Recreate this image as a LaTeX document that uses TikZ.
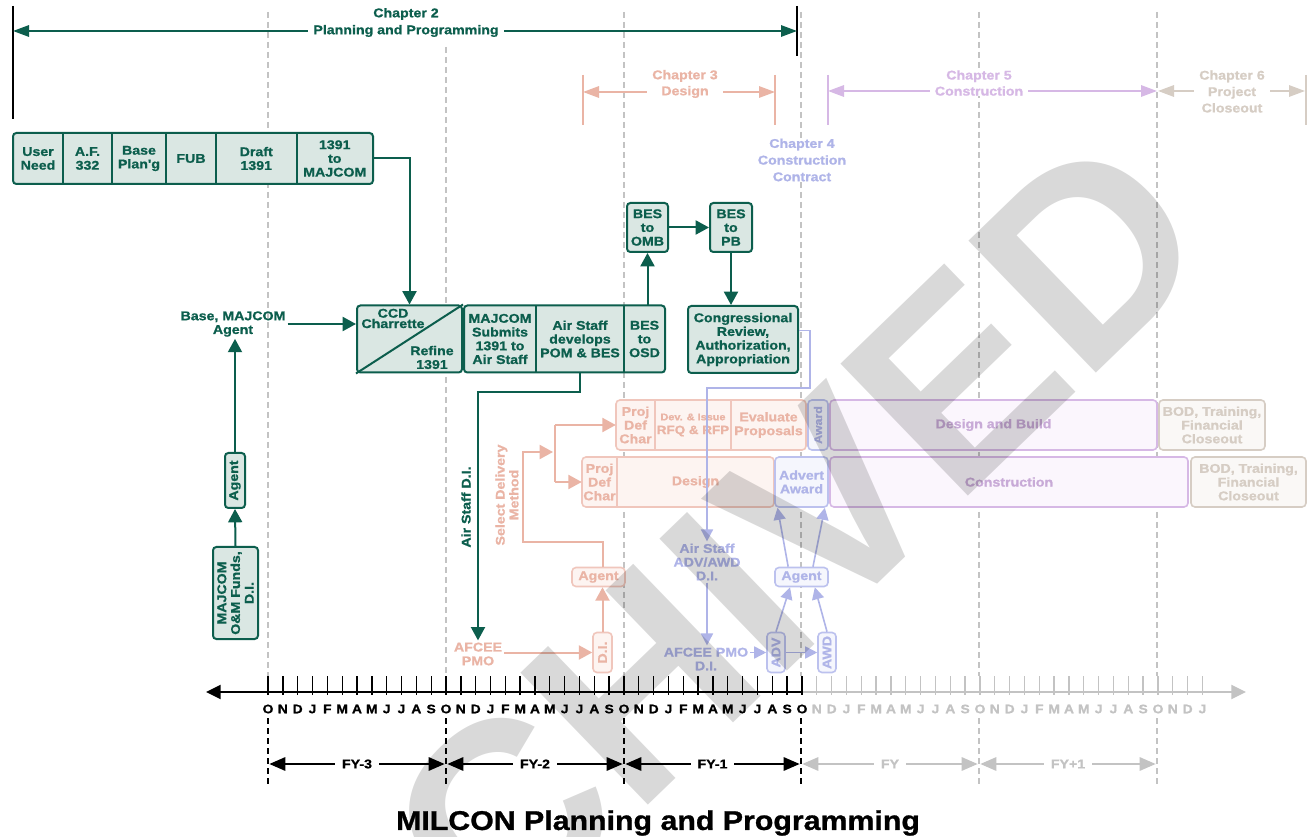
\documentclass[tikz,border=0pt]{standalone}
\usepackage{fontspec}
\setmainfont{Liberation Sans}
\newfontfamily\hb{Liberation Sans}[BoldFeatures={FakeStretch=1.12,FakeBold=1}]
\newfontfamily\wmf{Liberation Sans}
\usetikzlibrary{arrows.meta,calc}
\definecolor{cG}{RGB}{12,94,77}
\definecolor{cGF}{RGB}{218,231,227}
\definecolor{cPK}{RGB}{234,180,165}
\definecolor{cPKB}{RGB}{240,198,188}
\definecolor{cPKF}{RGB}{253,244,241}
\definecolor{cBL}{RGB}{175,180,232}
\definecolor{cBLB}{RGB}{188,193,238}
\definecolor{cBLF}{RGB}{245,246,253}
\definecolor{cLV}{RGB}{214,184,229}
\definecolor{cLVT}{RGB}{200,170,215}
\definecolor{cLVF}{RGB}{251,246,253}
\definecolor{cBG}{RGB}{214,205,196}
\definecolor{cBGF}{RGB}{250,248,246}
\definecolor{cGR}{RGB}{195,195,195}
\newcommand\bx{\hb\bfseries\fontsize{9.5}{10.3}\selectfont}
\newcommand\bxs{\hb\bfseries\fontsize{8.3}{9.5}\selectfont}
\newcommand\tl{\hb\bfseries\fontsize{9.3}{10}\selectfont}
\tikzset{
  sz/.style 2 args={minimum width=#1*0.75pt, minimum height=#2*0.75pt},
  gbox/.style={draw=cG, fill=cGF, line width=1.5pt, rounded corners=2.5pt, inner sep=0pt, align=center, font=\bx, text=cG},
  cell/.style={inner sep=0pt, align=center, font=\bx},
  gtext/.style={inner sep=1.5pt, align=center, font=\bx, text=cG},
  gline/.style={draw=cG, line width=1.5pt},
  tip/.style={-{Triangle[length=10pt,width=10.5pt]}},
  garr/.style={draw=cG, line width=1.5pt, tip},
  pbox/.style={draw=cPKB, fill=cPKF, line width=1.2pt, rounded corners=3pt, inner sep=0pt, align=center, font=\bx, text=cPK},
  pline/.style={draw=cPK, line width=1.5pt},
  parr/.style={draw=cPK, line width=1.5pt, tip},
  ptext/.style={inner sep=1.5pt, align=center, font=\bx, text=cPK},
  bbox/.style={draw=cBLB, fill=cBLF, line width=1.2pt, rounded corners=3pt, inner sep=0pt, align=center, font=\bx, text=cBL},
  barr/.style={draw=cBL, line width=1.2pt, -{Triangle[length=9pt,width=9pt]}},
  btext/.style={inner sep=1.5pt, align=center, font=\bx, text=cBL},
  lbox/.style={draw=cLV, fill=cLVF, line width=1.2pt, rounded corners=3pt, inner sep=0pt, align=center, font=\bx, text=cLVT},
  ybox/.style={draw=cBG, fill=cBGF, line width=1.2pt, rounded corners=3pt, inner sep=0pt, align=center, font=\bx, text=cBG},
  ctext/.style={font=\bx, fill=white, align=center, inner xsep=4pt, inner ysep=0.5pt},
  chtip/.style={{Triangle[length=12pt,width=8.5pt]}-{Triangle[length=12pt,width=8.5pt]}},
  guide/.style={draw=cGR, line width=1pt, dash pattern=on 4.5pt off 3pt},
  bguide/.style={draw=black, line width=1pt, dash pattern=on 4.5pt off 3pt},
  wm/.style={text=black, text opacity=0.15, inner sep=0pt, font=\wmf\bfseries\fontsize{200}{200}\selectfont}
}
\begin{document}
\begin{tikzpicture}[x=0.75pt,y=-0.75pt]
\useasboundingbox (0,0) rectangle (1307,837);
\fill[white] (0,0) rectangle (1307,837);

% guide lines
\foreach \gx/\gy in {268/12,446/47,624/12,801/12,979/12,1157/12}
  \draw[guide] (\gx,\gy) -- (\gx,676);
\foreach \gx in {268,446,624,801} \draw[bguide] (\gx,718) -- (\gx,786);
\foreach \gx in {979,1157} \draw[guide] (\gx,718) -- (\gx,786);

% Chapter 2
\draw[line width=1.1pt] (13,6) -- (13,119);
\draw[line width=1.1pt] (797,6) -- (797,56);
\coordinate (c2l) at (13,31); \coordinate (c2r) at (797,31);
\draw[cG, line width=1.5pt, chtip] (c2l) -- (c2r);
\node[ctext, text=cG] (c2) at (406,22.5) {Chapter 2\\[2.4pt]Planning and Programming};

% Chapter 3
\draw[cPK, line width=1.1pt] (583,75) -- (583,125);
\draw[cPK, line width=1.1pt] (775,75) -- (775,125);
\coordinate (c3l) at (583,92); \coordinate (c3r) at (775,92);
\draw[cPK, line width=1.5pt, chtip] (c3l) -- (c3r);
\node[ctext, text=cPK] (c3) at (685,84) {Chapter 3\\[1.7pt]Design};

% Chapter 5
\draw[cLV, line width=1.1pt] (828,75) -- (828,125);
\coordinate (c5l) at (828,91); \coordinate (c5r) at (1157,91);
\draw[cLV, line width=1.5pt, chtip] (c5l) -- (c5r);
\node[ctext, text=cLV] (c5) at (979,83) {Chapter 5\\[1.7pt]Construction};

% Chapter 6
\draw[cBG, line width=1.1pt] (1306,75) -- (1306,125);
\coordinate (c6l) at (1158,91); \coordinate (c6r) at (1305,91);
\draw[cBG, line width=1.5pt, chtip] (c6l) -- (c6r);
\node[ctext, text=cBG] (c6) at (1232,91.5) {Chapter 6\\[2pt]Project\\[2pt]Closeout};

% Chapter 4
\node[ctext, text=cBL] (c4) at (802,160) {Chapter 4\\[2.2pt]Construction\\[2.2pt]Contract};

% top row
\node[gbox, sz={360}{51}] (row1) at (193,158.5) {};
\node[cell, text=cG, sz={50}{51}] (un) at (38,158.5) {User\\Need};
\node[cell, text=cG, sz={49}{51}] (af) at (87.5,158.5) {A.F.\\332};
\node[cell, text=cG, sz={54}{51}] (bp) at (139,158.5) {Base\\Plan'g};
\node[cell, text=cG, sz={50}{51}] (fub) at (191,158.5) {FUB};
\node[cell, text=cG, sz={80.5}{51}] (dr) at (256.25,158.5) {Draft\\1391};
\node[cell, text=cG, sz={76.5}{51}] (tm) at (334.75,158.5) {1391\\to\\MAJCOM};
\foreach \c in {un,af,bp,fub,dr} \draw[gline] (\c.north east) -- (\c.south east);

% CCD
\node[gbox, sz={105}{67}] (ccd) at (409.5,339) {};
\draw[gline] (ccd.south west) -- (ccd.north east);
\node[cell, text=cG] (ccdt) at (393,318.5) {CCD\\[-2.5pt]Charrette};
\node[cell, text=cG] (ccdr) at (432,357.5) {Refine\\1391};

% group 2
\node[gbox, sz={201}{67}] (g2) at (564.5,339) {};
\node[cell, text=cG, sz={71.7}{67}] (ms) at (500,339) {MAJCOM\\Submits\\1391 to\\Air Staff};
\node[cell, text=cG, sz={88.3}{67}] (as) at (580,339) {Air Staff\\develops\\POM \& BES};
\node[cell, text=cG, sz={41}{67}] (bo) at (644.5,339) {BES\\to\\OSD};
\draw[gline] (ms.north east) -- (ms.south east);
\draw[gline] (as.north east) -- (as.south east);

\node[gbox, sz={41}{49}] (omb) at (647.5,227.5) {BES\\to\\OMB};
\node[gbox, sz={42}{49}] (pb) at (731,227.5) {BES\\to\\PB};
\node[gbox, sz={110}{67}] (cr) at (743,339.5) {Congressional\\Review,\\Authorization,\\Appropriation};

\node[gtext] (bmag) at (233,324) {Base, MAJCOM\\Agent};
\node[gbox, rotate=90, sz={55}{20}] (ag) at (235,480.5) {Agent};
\node[gbox, rotate=90, sz={92}{45}] (mom) at (235.5,593) {MAJCOM\\O\&M Funds,\\D.I.};
\node[gtext, rotate=90] (asdi) at (466,507) {Air Staff D.I.};

% green connectors
\draw[garr] (tm.east) -| (ccd.north);
\draw[garr] (bmag.east) -- (bmag.east -| ccd.west);
\draw[garr] (mom.east) -- (ag.west);
\draw[garr] (ag.east) -- (ag.east |- bmag.south);
\draw[garr] (omb.south |- bo.north) -- (omb.south);
\draw[garr] (omb.east) -- (pb.west);
\draw[garr] (pb.south) -- (pb.south |- cr.north);

% pink
\node[ptext] (pafp) at (478,654) {AFCEE\\PMO};
\node[pbox, rotate=90, sz={40}{19}] (pdi) at (602.5,652.5) {D.I.};
\node[pbox, sz={53}{19}] (pag) at (598.5,577) {Agent};
\node[ptext, rotate=90] (sdm) at (507,495) {Select Delivery\\Method};
\node[pbox, sz={190}{50}] (pr1) at (711,425) {};
\node[cell, text=cPK, sz={39}{50}] (pdc1) at (635.5,425) {Proj\\Def\\Char};
\node[cell, text=cPK, sz={76}{50}] (dev) at (693,425) {{\fontsize{7.3}{8}\selectfont Dev. \& Issue}\\{\fontsize{9}{10.3}\selectfont RFQ \& RFP}};
\node[cell, text=cPK, sz={75}{50}] (ev) at (768.5,425) {Evaluate\\Proposals};
\draw[cPKB, line width=1.2pt] (pdc1.north east) -- (pdc1.south east);
\draw[cPKB, line width=1.2pt] (dev.north east) -- (dev.south east);
\node[pbox, sz={192}{50}] (pr2) at (678,482) {};
\node[cell, text=cPK, sz={35}{50}] (pdc2) at (599.5,482) {Proj\\Def\\Char};
\node[cell, text=cPK, sz={157}{50}] (des) at (695.5,482) {Design};
\draw[cPKB, line width=1.2pt] (pdc2.north east) -- (pdc2.south east);

\coordinate (sdk) at (553,452);
\coordinate (sdt) at (555,425);
\coordinate (sdb) at (555,482);
\draw[parr] (pdi.east |- pag.north) |- (523,542) |- (sdk);
\draw[pline] (sdt) -- (sdb);
\draw[parr] (sdt) -- (pdc1.west);
\draw[parr] (sdb) -- (pdc2.west);
\draw[parr] (pdi.north -| pafp.east) -- (pdi.north);
\draw[parr] (pdi.east) -- (pdi.east |- pag.south);

% blue / lavender / beige
\node[bbox, rotate=90, sz={50}{20}, font=\bxs] (aw) at (818,425) {Award};
\node[bbox, sz={53}{50}] (aa) at (801.5,482) {Advert\\Award};
\node[lbox, sz={327}{50}] (dab) at (993.5,425) {Design and Build};
\node[lbox, sz={358}{50}] (cons) at (1009,482) {Construction};
\node[ybox, sz={106}{50}] (bod1) at (1212,425) {BOD, Training,\\Financial\\Closeout};
\node[ybox, sz={115}{50}] (bod2) at (1248.5,482) {BOD, Training,\\Financial\\Closeout};

\node[btext] (asad) at (707,562) {Air Staff\\ADV/AWD\\D.I.};
\node[btext] (apd) at (706,659) {AFCEE PMO\\D.I.};
\node[bbox, rotate=90, sz={40}{18}] (adv) at (776,652.5) {ADV};
\node[bbox, rotate=90, sz={40}{18}] (awd) at (827,652.5) {AWD};
\node[bbox, sz={53}{19}] (bag) at (801.5,577) {Agent};

\draw[barr] ([yshift=6.75pt]cr.east) -| (810,388) -| (asad.north);
\draw[barr] (asad.south) -- (asad.south |- apd.north);
\draw[barr] (adv.north -| apd.east) -- (adv.north);
\draw[barr] (adv.south) -- (awd.north);
\draw[barr] (adv.east) -- ([xshift=-8.6pt]bag.south);
\draw[barr] (awd.east) -- ([xshift=10pt]bag.south);
\draw[barr] ([xshift=-10pt]bag.north) -- ([xshift=-18pt]aa.south);
\draw[barr] ([xshift=8.6pt]bag.north) -- ([xshift=17.5pt]aa.south);

% green D.I. connector
\draw[garr] (as.south) -- ++(0,19) -| (pafp.north);

% timeline
\coordinate (axl) at (206,692); \coordinate (axm) at (801,692); \coordinate (axr) at (1246,692);
\draw[black, line width=1.5pt, -{Triangle[length=11pt,width=10.5pt]}] (axm) -- (axl);
\draw[cGR, line width=1.5pt, -{Triangle[length=11pt,width=10.5pt]}] (axm) -- (axr);
\foreach \m [count=\i from 0] in {O,N,D,J,F,M,A,M,J,J,A,S,O,N,D,J,F,M,A,M,J,J,A,S,O,N,D,J,F,M,A,M,J,J,A,S,O,N,D,J,F,M,A,M,J,J,A,S,O,N,D,J,F,M,A,M,J,J,A,S,O,N,D,J} {
  \pgfmathsetmacro\xx{268+\i*14.833}
  \ifnum\i<37 \def\cc{black}\else\def\cc{cGR}\fi
  \draw[\cc, line width=1pt] (\xx,676) -- (\xx,695);
  \node[font=\tl, text=\cc, inner sep=0pt] (m\i) at (\xx,709) {\m};
}

% FY arrows
\coordinate (f0) at (268,764); \coordinate (f1) at (446,764); \coordinate (f2) at (624,764);
\coordinate (f3) at (801,764); \coordinate (f4) at (979,764); \coordinate (f5) at (1157,764);
\tikzset{fyt/.style={line width=1.5pt, {Triangle[length=12pt,width=10pt]}-{Triangle[length=12pt,width=10pt]}, shorten <=1pt, shorten >=1pt}}
\draw[black, fyt] (f0) -- (f1);
\draw[black, fyt] (f1) -- (f2);
\draw[black, fyt] (f2) -- (f3);
\draw[cGR, fyt] (f3) -- (f4);
\draw[cGR, fyt] (f4) -- (f5);
\node[ctext, text=black, inner xsep=5pt] (fy3) at (357,764) {FY-3};
\node[ctext, text=black, inner xsep=5pt] (fy2) at (535,764) {FY-2};
\node[ctext, text=black, inner xsep=5pt] (fy1) at (712.5,764) {FY-1};
\node[ctext, text=cGR, inner xsep=5pt] (fy0) at (890,764) {FY};
\node[ctext, text=cGR, inner xsep=5pt] (fyp) at (1068,764) {FY+1};

% title
\node[font=\hb\bfseries\fontsize{20.3}{24}\selectfont, inner sep=0pt] (title) at (658,823) {MILCON Planning and Programming};

% watermark
\begin{scope}
\clip (0,0) rectangle (1307,837);
\node[wm, rotate=44, anchor=base west] (wmark) at (220,1219) {ARCHIVED};
\end{scope}
\end{tikzpicture}
\end{document}
